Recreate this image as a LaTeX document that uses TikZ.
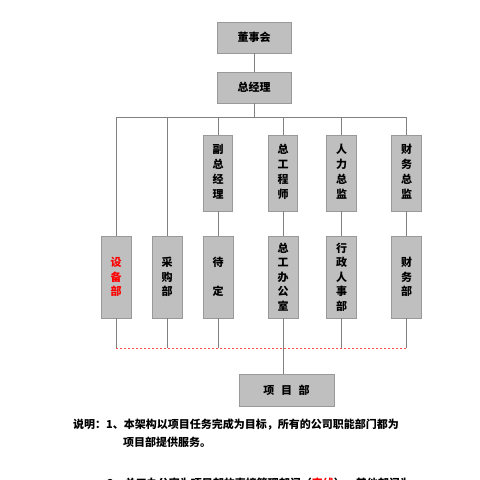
\documentclass[tikz,border=0pt]{standalone}
\usepackage{fontspec}
\setmainfont{Noto Sans CJK SC}
\begin{document}
\begin{tikzpicture}[x=1pt,y=-1pt,
  box/.style={draw=black!40,fill=black!25,line width=0.8pt,inner sep=0pt,font=\bfseries\fontsize{11}{14.5}\selectfont,align=center},
  conn/.style={draw=black!50,line width=1pt},
  dash line/.style={draw=red!70,line width=0.7pt,dash pattern=on 2pt off 2pt}]
\useasboundingbox (0,0) rectangle (480,480);
\node[box,minimum width=74pt,minimum height=31pt] (board) at (254,37.5) {董事会};
\node[box,minimum width=74pt,minimum height=31pt] (gm) at (254,87.5) {总经理};
\coordinate (busL) at (116,117);
\coordinate (busR) at (407,117);
\coordinate (busC) at (254,117);
% upper boxes
\foreach \n/\x/\t in {u3/218/副\\总\\经\\理, u4/283/总\\工\\程\\师, u5/341.5/人\\力\\总\\监, u6/406.5/财\\务\\总\\监}
  \node[box,minimum width=29.5pt,minimum height=76pt,font=\bfseries\fontsize{11}{15}\selectfont] (\n) at (\x,173) {\raisebox{3pt}{\begin{tabular}{@{}c@{}}\t\end{tabular}}};
% lower boxes
\node[box,minimum width=30pt,minimum height=82pt,text=red] (l1) at (116,277) {设\\备\\部};
\node[box,minimum width=30pt,minimum height=82pt] (l2) at (167,277) {采\\购\\部};
\node[box,minimum width=30pt,minimum height=82pt] (l3) at (218,277) {待\\\\定};
\node[box,minimum width=30pt,minimum height=82pt] (l4) at (283,277) {总\\工\\办\\公\\室};
\node[box,minimum width=30pt,minimum height=82pt] (l5) at (341.5,277) {行\\政\\人\\事\\部};
\node[box,minimum width=30pt,minimum height=82pt] (l6) at (406.5,277) {财\\务\\部};
\node[box,minimum width=95pt,minimum height=32pt] (proj) at (286.5,390) {项\hspace{0.6em}目\hspace{0.6em}部};
% connectors
\draw[conn] (board) -- (gm);
\draw[conn] (gm) -- (busC);
\draw[conn] (busL) -- (busR);
\draw[conn] (busL) -- (l1);
\draw[conn] (l2.north |- busL) -- (l2);
\foreach \u/\l in {u3/l3,u4/l4,u5/l5,u6/l6}{
  \draw[conn] (\u.north |- busL) -- (\u);
  \draw[conn] (\u) -- (\l);
}
\coordinate (dL) at (116,348);
\coordinate (dR) at (407,348);
\foreach \l in {l1,l2,l3,l5,l6}
  \draw[conn] (\l.south) -- (\l.south |- dL);
\draw[conn] (l4.south) -- (l4.south |- proj.north);
\draw[dash line] (dL) -- (dR);
% notes
\node[anchor=base west,inner sep=0pt,font=\bfseries\fontsize{11}{14}\selectfont] (n1) at (73,428) {说明：1、本架构以项目任务完成为目标，所有的公司职能部门都为};
\node[anchor=base west,inner sep=0pt,font=\bfseries\fontsize{11}{14}\selectfont] (n2) at (123,446) {项目部提供服务。};
\node[anchor=base west,inner sep=0pt,font=\bfseries\fontsize{11}{14}\selectfont] (n3) at (107,487) {2、总工办公室为项目部的直接管理部门（\textcolor{red}{实线}），其他部门为};
\end{tikzpicture}
\end{document}
